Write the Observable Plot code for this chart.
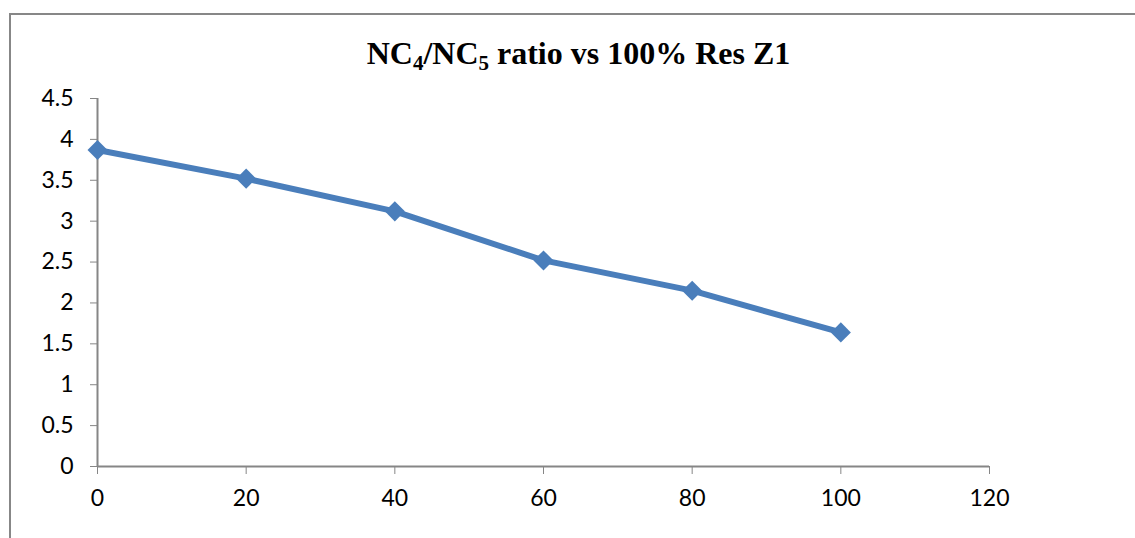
<!DOCTYPE html>
<html>
<head>
<meta charset="utf-8">
<script src="https://cdn.jsdelivr.net/npm/d3@7"></script>
<script src="https://cdn.jsdelivr.net/npm/@observablehq/plot@0.6"></script>
<style>
  html, body { margin: 0; padding: 0; background: #fff; }
  #wrap { position: relative; width: 1135px; height: 538px; overflow: hidden; background: #fff; }
  #frame { position: absolute; left: 9px; top: 13px; width: 1300px; height: 700px; border: 2px solid #878787; box-sizing: border-box; }
  #title { position: relative; height: 80px; box-sizing: border-box; padding-top: 38px; padding-left: 22px;
           text-align: center; font-family: "Liberation Serif", "Times New Roman", serif; font-weight: bold;
           font-size: 32px; line-height: 30px; color: #000; }
  #title sub { font-size: 21px; vertical-align: -6px; line-height: 0; }
  #chart { position: relative; }
</style>
</head>
<body>
<div id="wrap">
  <div id="frame"></div>
  <div id="title">NC<sub>4</sub>/NC<sub>5</sub> ratio vs 100% Res Z1</div>
  <div id="chart"></div>
</div>
<script>
const resPercent = [0, 20, 40, 60, 80, 100];
const ratio = [3.87, 3.52, 3.12, 2.52, 2.15, 1.64];
const xTicks = [0, 20, 40, 60, 80, 100, 120];
const yTicks = [0, 0.5, 1, 1.5, 2, 2.5, 3, 3.5, 4, 4.5];

const data = resPercent.map((x, i) => ({x, y: ratio[i]}));
const axisGray = "#868686";
const blue = "#4a7ebb";

const plot = Plot.plot({
  width: 1135,
  height: 458,
  marginTop: 18,
  marginBottom: 72,
  marginLeft: 97,
  marginRight: 146,
  style: { fontFamily: "Lato, 'Open Sans', sans-serif", fontSize: "23px", color: "#000", background: "transparent" },
  x: { domain: [0, 120] },
  y: { domain: [0, 4.5] },
  marks: [
    Plot.axisY({ ticks: yTicks, tickFormat: d => String(d), tickSize: 7, tickPadding: 17, stroke: axisGray, fill: "#000", label: null, fontSize: 23 }),
    Plot.axisX({ ticks: xTicks, tickFormat: d => String(d), tickSize: 8, tickPadding: 15, stroke: axisGray, fill: "#000", label: null, fontSize: 23 }),
    Plot.ruleX([0], { y1: 0, y2: 4.5, stroke: axisGray, strokeWidth: 2 }),
    Plot.ruleY([0], { x1: 0, x2: 120, stroke: axisGray, strokeWidth: 2 }),
    Plot.line(data, { x: "x", y: "y", stroke: blue, strokeWidth: 6, strokeLinejoin: "round" }),
    Plot.dot(data, { x: "x", y: "y", symbol: "square", r: 8, rotate: 45, fill: blue, stroke: "none" })
  ]
});
document.getElementById("chart").appendChild(plot);
</script>
</body>
</html>
